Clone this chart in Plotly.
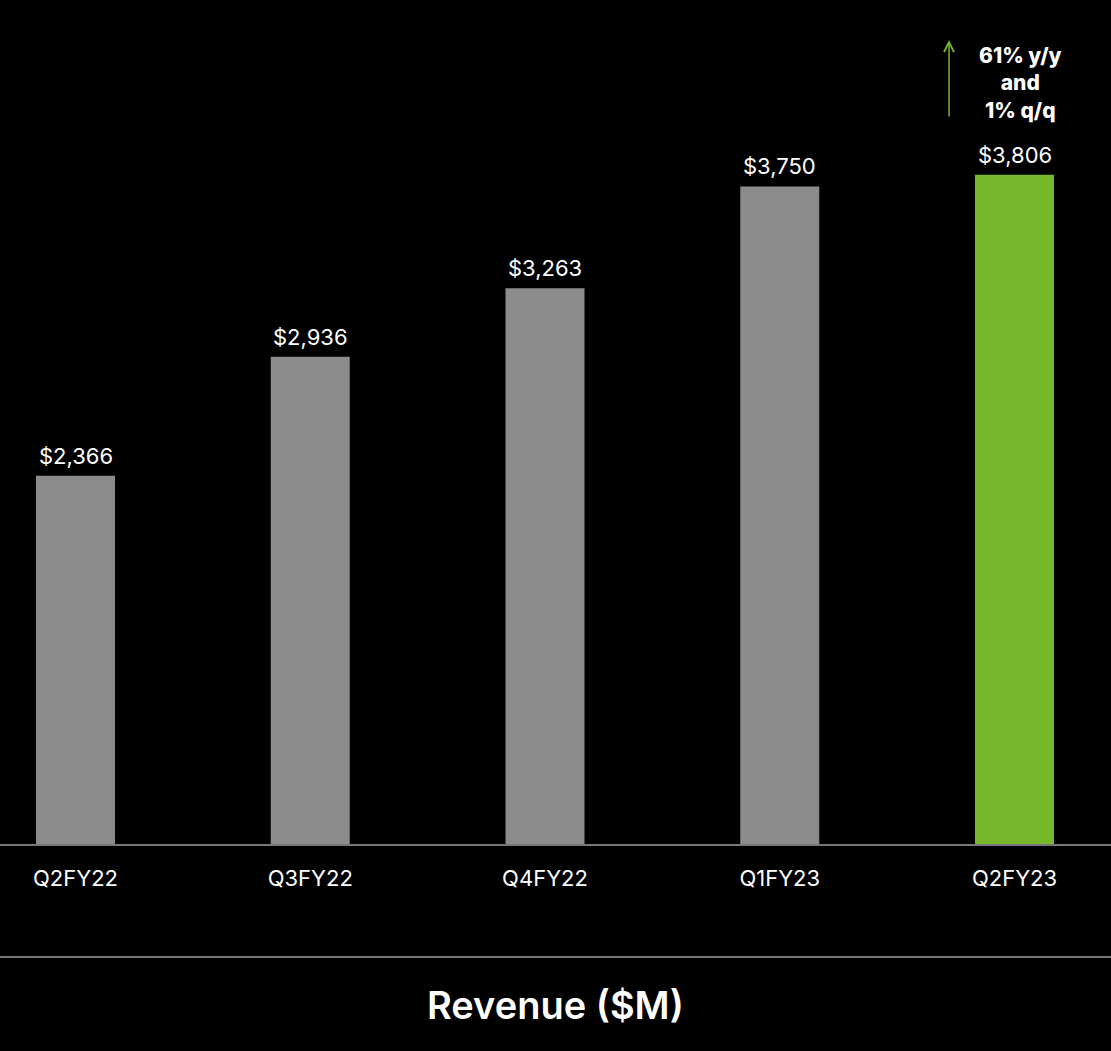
import plotly.graph_objects as go

quarters = ["Q2FY22", "Q3FY22", "Q4FY22", "Q1FY23", "Q2FY23"]
revenue = [2366, 2936, 3263, 3750, 3806]
bar_colors = ["#8c8c8c", "#8c8c8c", "#8c8c8c", "#8c8c8c", "#76b82a"]
value_labels = ["$2,366", "$2,936", "$3,263", "$3,750", "$3,806"]
growth_note = "61% y/y<br>and<br>1% q/q"
chart_title = "Revenue ($M)"

FONT = "Inter, Open Sans, sans-serif"

fig = go.Figure()
fig.add_trace(go.Bar(
    x=quarters, y=revenue,
    marker=dict(color=bar_colors, line=dict(width=0)),
    width=0.3365,
    hoverinfo="skip",
))

for q, v, lab in zip(quarters, revenue, value_labels):
    fig.add_annotation(x=q, y=v, text=lab, showarrow=False,
                       yanchor="bottom", yshift=5,
                       font=dict(family=FONT, size=22, color="white"))

# growth note
fig.add_annotation(x=quarters[-1], y=1.0, yref="paper", xshift=6, yshift=-41,
                   text=growth_note, showarrow=False,
                   yanchor="top", align="center",
                   font=dict(family=FONT, size=21, color="white", weight=800))
# arrow
fig.add_annotation(x=0.8542, xref="paper", y=0.9527, yref="paper",
                   text="", showarrow=True, ax=0, ay=78,
                   arrowhead=5, arrowsize=1.3, arrowwidth=1.5,
                   arrowcolor="#76b82a")

# title
fig.add_annotation(x=0.5, xref="paper", y=-0.1893, yref="paper",
                   text=chart_title, showarrow=False, yanchor="middle",
                   font=dict(family=FONT, size=38, color="white", weight=600))

# lines
fig.add_shape(type="line", xref="paper", yref="paper", x0=0, x1=1, y0=0, y1=0,
              line=dict(color="#777777", width=2))
fig.add_shape(type="line", xref="paper", yref="paper", x0=0, x1=1,
              y0=-0.1325, y1=-0.1325, line=dict(color="#777777", width=2))

fig.update_layout(
    width=1111, height=1051,
    margin=dict(l=0, r=0, t=0, b=206),
    paper_bgcolor="black", plot_bgcolor="black",
    showlegend=False,
    xaxis=dict(range=[-0.3216, 4.411], showgrid=False, zeroline=False,
               showline=False, ticks="", ticklabelstandoff=18,
               tickfont=dict(family=FONT, size=22, color="white")),
    yaxis=dict(range=[600, 4642], visible=False, showgrid=False),
)

fig.write_html("out.html")
